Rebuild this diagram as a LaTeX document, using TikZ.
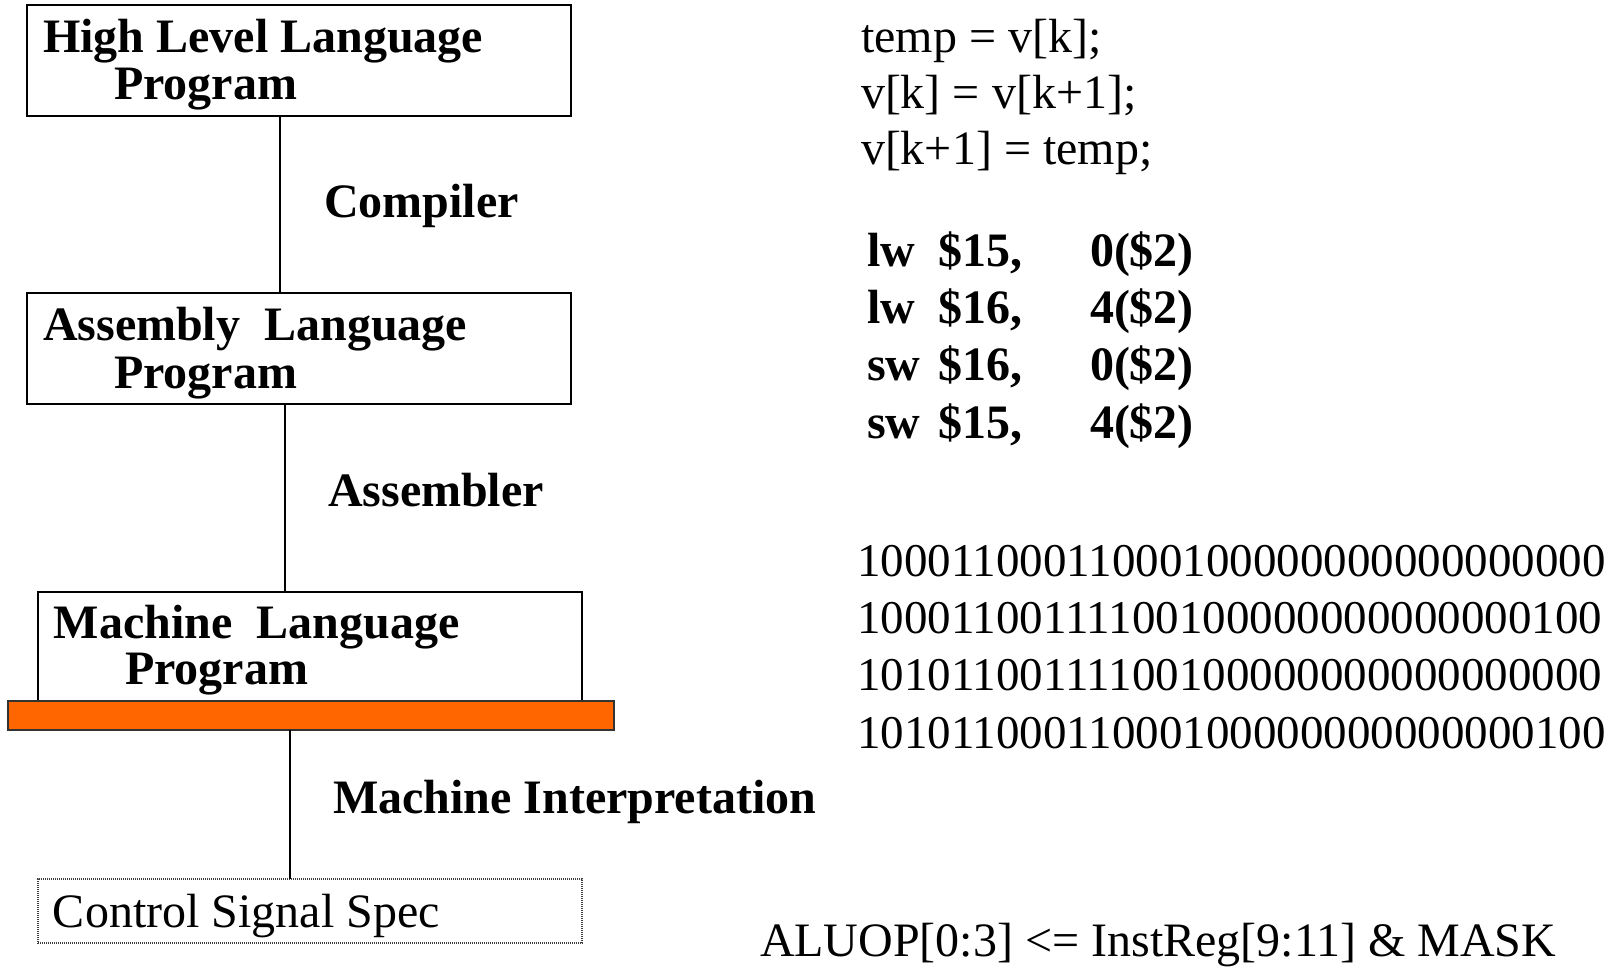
\documentclass[tikz,border=0pt]{standalone}
\usepackage{fontspec}
\setmainfont{Liberation Serif}
\begin{document}
\begin{tikzpicture}[x=0.5pt,y=-0.5pt,
  every node/.style={inner sep=0pt, outer sep=0pt},
  box/.style={draw=black, line width=1pt, anchor=north west, minimum width=272pt},
  dotbox/.style={draw=black!75, line width=1.1pt, dash pattern=on 0.6pt off 0.4pt, anchor=north west, minimum width=272pt},
  bar/.style={draw=black!80, line width=1pt, fill=orange600, anchor=north west, minimum width=303pt, minimum height=14.5pt},
  txt/.style={anchor=base west, font=\fontsize{24pt}{28pt}\selectfont},
  bintxt/.style={anchor=base west, font=\fontsize{23.5pt}{28pt}\selectfont},
  btxt/.style={anchor=base west, font=\fontsize{24pt}{28pt}\selectfont\bfseries},
  conn/.style={draw=black, line width=0.8pt}]
\definecolor{orange600}{HTML}{FF6600}
\useasboundingbox (0,0) rectangle (1608,967);
% boxes
\node[box, minimum height=55.5pt] (hll) at (27,5) {};
\node[box, minimum height=55.5pt] (asm) at (27,293) {};
\node[box, minimum height=54.5pt] (mlp) at (38,592) {};
\node[bar] (bar) at (8,701) {};
\node[dotbox, minimum height=32pt] (css) at (38,879) {};
% box texts
\node[btxt] (t1a) at (43,53) {High Level Language};
\node[btxt] (t1b) at (114,100) {Program};
\node[btxt] (t2a) at (43,341) {Assembly\ \ Language};
\node[btxt] (t2b) at (114,389) {Program};
\node[btxt] (t3a) at (54,639) {Machine\ \ Language};
\node[btxt] (t3b) at (125,685) {Program};
\node[txt] (t4) at (53,928) {Control Signal Spec};
% connectors
\coordinate (l1) at (280,0);
\coordinate (l2) at (285,0);
\coordinate (l3) at (290,0);
\draw[conn] (hll.south -| l1) -- (asm.north -| l1);
\draw[conn] (asm.south -| l2) -- (mlp.north -| l2);
\draw[conn] (bar.south -| l3) -- (css.north -| l3);
% labels
\node[btxt] (compiler) at (324,218) {Compiler};
\node[btxt] (assembler) at (328,507) {Assembler};
\node[btxt] (interp) at (333,814) {Machine Interpretation};
% source code
\node[txt] (c1) at (861,53) {temp = v[k];};
\node[txt] (c2) at (861,109) {v[k] = v[k+1];};
\node[txt] (c3) at (861,165) {v[k+1] = temp;};
% assembly
\node[btxt] (a1op) at (867,267) {lw};
\node[btxt] (a1r) at (938,267) {\$15,};
\node[btxt] (a1m) at (1090,267) {0(\$2)};
\node[btxt] (a2op) at (867,324) {lw};
\node[btxt] (a2r) at (938,324) {\$16,};
\node[btxt] (a2m) at (1090,324) {4(\$2)};
\node[btxt] (a3op) at (867,381) {sw};
\node[btxt] (a3r) at (938,381) {\$16,};
\node[btxt] (a3m) at (1090,381) {0(\$2)};
\node[btxt] (a4op) at (867,439) {sw};
\node[btxt] (a4r) at (938,439) {\$15,};
\node[btxt] (a4m) at (1090,439) {4(\$2)};
% machine code
\node[bintxt] (m1) at (857,577) {10001100011000100000000000000000};
\node[bintxt] (m2) at (857,634) {10001100111100100000000000000100};
\node[bintxt] (m3) at (857,691) {10101100111100100000000000000000};
\node[bintxt] (m4) at (857,749) {10101100011000100000000000000100};
% control
\node[txt] (alu) at (760,957) {ALUOP[0:3] <= InstReg[9:11] \& MASK};
\end{tikzpicture}
\end{document}
